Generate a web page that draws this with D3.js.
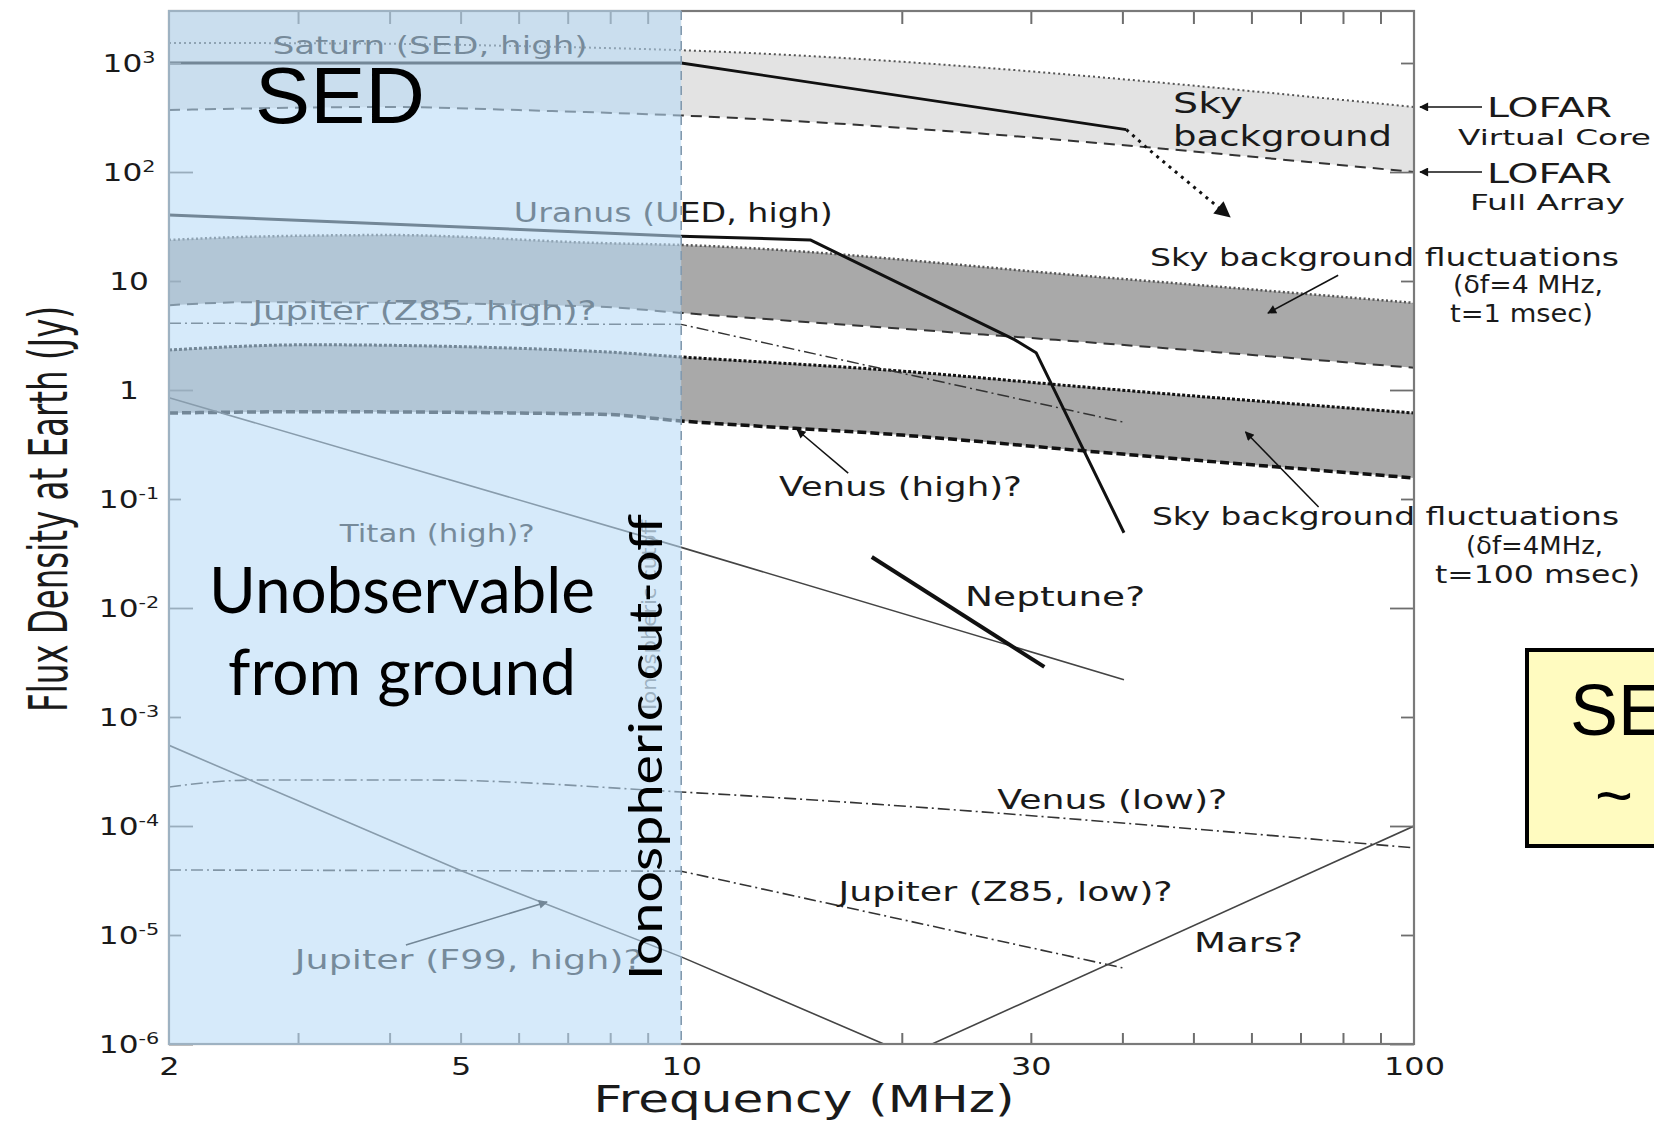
<!DOCTYPE html>
<html>
<head>
<meta charset="utf-8">
<script src="https://cdn.jsdelivr.net/npm/d3@7"></script>
<style>
  html, body { margin: 0; padding: 0; background: #ffffff; overflow: hidden; }
  svg { display: block; }
</style>
</head>
<body>
<svg id="chart" width="1654" height="1123"></svg>
<script>
// ---------------------------------------------------------------------------
// Planetary radio emission vs. sky background, flux density at Earth (Jy)
// ---------------------------------------------------------------------------

// Sky background: LOFAR virtual core (upper) and full array (lower) limits
const skyFreq        = [2, 4, 6, 10, 100];
const skyVirtualCore = [1530, 1500, 1430, 1310, 395];
const skyFullArray   = [370, 395, 370, 330, 100];

// Sky background fluctuations, df = 4 MHz, t = 1 msec
const fluct1Freq  = [2, 2.6, 4, 7.75, 10, 37, 100];
const fluct1Upper = [23.8, 25.5, 26.4, 22.3, 21.4, 10.9, 6.3];
const fluct1Lower = [6.0, 6.4, 6.3, 5.8, 5.1, 2.7, 1.6];

// Sky background fluctuations, df = 4 MHz, t = 100 msec
const fluct100Freq  = [2, 3.1, 7.75, 10, 20, 37, 100];
const fluct100Upper = [2.33, 2.6, 2.25, 2.01, 1.49, 1.04, 0.615];
const fluct100Lower = [0.615, 0.632, 0.6, 0.52, 0.386, 0.27, 0.156];

// Planetary spectra
const saturnFreq        = [2, 10, 40.5];
const saturnFlux        = [1000, 1000, 245];
const saturnCutoffFreq  = [40.5, 43.5, 56];
const saturnCutoffFlux  = [245, 160, 39];
const uranusFreq        = [2, 10, 15, 16.2, 28.5, 30.5, 40.2];
const uranusFlux        = [40.4, 25.8, 23.8, 18.5, 2.9, 2.2, 0.049];
const jupZ85HighFreq    = [2, 10, 40];
const jupZ85HighFlux    = [4.1, 4.0, 0.51];
const titanFreq         = [2, 10, 40.2];
const titanFlux         = [0.85, 0.036, 0.0022];
const neptuneFreq       = [18.2, 31.3];
const neptuneFlux       = [0.0294, 0.00288];
const venusLowFreq      = [2, 2.6, 4.5, 10, 100];
const venusLowFlux      = [2.28e-4, 2.64e-4, 2.64e-4, 2.05e-4, 6.3e-5];
const jupZ85LowFreq     = [2, 10, 40];
const jupZ85LowFlux     = [3.95e-5, 3.85e-5, 5.0e-6];
const jupF99Freq        = [2, 5, 10, 18.9];
const jupF99Flux        = [5.5e-4, 3.9e-5, 6.3e-6, 1e-6];
const marsFreq          = [22, 100];
const marsFlux          = [1e-6, 1e-4];

// Axis ticks
const xMinorTicks = [3, 4, 5, 6, 7, 8, 9, 20, 30, 40, 50, 60, 70, 80, 90];
const xTickLabels = [2, 5, 10, 30, 100];
const yEvenDecades = [1e2, 1, 1e-2, 1e-4, 1e-6];
const yOddDecades  = [1e3, 1e1, 1e-1, 1e-3, 1e-5];
const yTickLabels  = [
  { v: 1e3,  base: "10", exp: "3"  },
  { v: 1e2,  base: "10", exp: "2"  },
  { v: 1e1,  base: "10", exp: ""   },
  { v: 1,    base: "1",  exp: ""   },
  { v: 1e-1, base: "10", exp: "-1" },
  { v: 1e-2, base: "10", exp: "-2" },
  { v: 1e-3, base: "10", exp: "-3" },
  { v: 1e-4, base: "10", exp: "-4" },
  { v: 1e-5, base: "10", exp: "-5" },
  { v: 1e-6, base: "10", exp: "-6" }
];
const cutoffFreq = 10;

// ---------------------------------------------------------------------------
const svg = d3.select("#chart");
const x = d3.scaleLog().domain([2, 100]).range([169, 1414]);
const y = d3.scaleLog().domain([1e-6, 3000]).range([1044, 11]);
const [xL, xR] = x.range();
const [yB, yT] = y.range();
const xCut = x(cutoffFreq);

const defs = svg.append("defs");
defs.append("clipPath").attr("id", "plotClip")
  .append("rect").attr("x", xL).attr("y", yT).attr("width", xR - xL).attr("height", yB - yT);
defs.append("clipPath").attr("id", "lowBandClip")
  .append("rect").attr("x", xL).attr("y", yT).attr("width", xCut - xL).attr("height", yB - yT);

function arrowMarker(id, len, wid, color) {
  defs.append("marker")
    .attr("id", id)
    .attr("viewBox", "0 0 10 10")
    .attr("refX", 9).attr("refY", 5)
    .attr("markerUnits", "userSpaceOnUse")
    .attr("markerWidth", len).attr("markerHeight", wid)
    .attr("orient", "auto")
    .append("path").attr("d", "M0,0 L10,5 L0,10 Z").attr("fill", color);
}
arrowMarker("arrowSmall", 12, 9, "#111");
arrowMarker("arrowBig", 20, 16, "#111");

const rows = (fs, vs) => fs.map((f, i) => ({ f, v: vs[i] }));
const band = (fs, lo, hi) => fs.map((f, i) => ({ f, lo: lo[i], hi: hi[i] }));
const smooth = d3.curveMonotoneX;
const line = d3.line().x(d => x(d.f)).y(d => y(d.v));
const smoothLine = d3.line().x(d => x(d.f)).y(d => y(d.v)).curve(smooth);
const bandArea = d3.area().x(d => x(d.f)).y0(d => y(d.lo)).y1(d => y(d.hi)).curve(smooth);
const aboveArea = d3.area().x(d => x(d.f)).y0(d => y(d.hi)).y1(yT).curve(smooth);

function addText(parent, o) {
  const t = parent.append("text")
    .attr("x", o.x).attr("y", o.y)
    .attr("font-family", o.family || "DejaVu Sans")
    .attr("font-size", o.size)
    .attr("fill", o.fill || "#1a1a1a")
    .attr("text-anchor", o.anchor || "start")
    .text(o.text);
  if (o.width) t.attr("textLength", o.width).attr("lengthAdjust", "spacingAndGlyphs");
  if (o.transform) t.attr("transform", o.transform);
  return t;
}

// Multi-line caption: one text element, one tspan per line
function addLines(parent, lines, family) {
  const t = parent.append("text")
    .attr("font-family", family || "DejaVu Sans")
    .attr("fill", "#1a1a1a");
  lines.forEach(l => {
    t.append("tspan")
      .attr("x", l.x).attr("y", l.y)
      .attr("font-size", l.size)
      .attr("textLength", l.w).attr("lengthAdjust", "spacingAndGlyphs")
      .text(l.text);
  });
  return t;
}

// ---------------------------------------------------------------------------
// Plot body
const plot = svg.append("g").attr("clip-path", "url(#plotClip)");

const sky = band(skyFreq, skyFullArray, skyVirtualCore);
plot.append("path").attr("d", bandArea(sky)).attr("fill", "#e3e3e3");
plot.append("g").attr("clip-path", "url(#lowBandClip)")
  .append("path").attr("d", aboveArea(sky)).attr("fill", "#e3e3e3");
plot.append("path").attr("d", bandArea(band(fluct1Freq, fluct1Lower, fluct1Upper))).attr("fill", "#a9a9a9");
plot.append("path").attr("d", bandArea(band(fluct100Freq, fluct100Lower, fluct100Upper))).attr("fill", "#a9a9a9");

const curves = [
  { d: rows(skyFreq, skyVirtualCore),   stroke: "#555", width: 2,   dash: "2,3", smooth: true },
  { d: rows(skyFreq, skyFullArray),     stroke: "#333", width: 2,   dash: "11,7", smooth: true },
  { d: rows(fluct1Freq, fluct1Upper),   stroke: "#555", width: 2.5, dash: "2,2.5", smooth: true },
  { d: rows(fluct1Freq, fluct1Lower),   stroke: "#333", width: 2,   dash: "11,7", smooth: true },
  { d: rows(fluct100Freq, fluct100Upper), stroke: "#111", width: 3, dash: "3,2", smooth: true },
  { d: rows(fluct100Freq, fluct100Lower), stroke: "#111", width: 3.5, dash: "9,4", smooth: true },
  { d: rows(jupZ85HighFreq, jupZ85HighFlux), stroke: "#333", width: 1.5, dash: "12,4,2,4" },
  { d: rows(titanFreq, titanFlux),      stroke: "#444", width: 1.6 },
  { d: rows(venusLowFreq, venusLowFlux), stroke: "#333", width: 1.6, dash: "12,4,2,4", smooth: true },
  { d: rows(jupZ85LowFreq, jupZ85LowFlux), stroke: "#333", width: 1.6, dash: "12,4,2,4" },
  { d: rows(jupF99Freq, jupF99Flux),    stroke: "#444", width: 1.6 },
  { d: rows(marsFreq, marsFlux),        stroke: "#444", width: 1.6 },
  { d: rows(saturnFreq, saturnFlux),    stroke: "#111", width: 2.8 },
  { d: rows(uranusFreq, uranusFlux),    stroke: "#111", width: 3 },
  { d: rows(neptuneFreq, neptuneFlux),  stroke: "#111", width: 4 }
];
curves.forEach(c => {
  plot.append("path").attr("d", (c.smooth ? smoothLine : line)(c.d))
    .attr("fill", "none").attr("stroke", c.stroke).attr("stroke-width", c.width)
    .attr("stroke-dasharray", c.dash || null).attr("stroke-linejoin", "round");
});

// Saturn high-frequency cut-off continuation
svg.append("path").attr("d", line(rows(saturnCutoffFreq, saturnCutoffFlux)))
  .attr("fill", "none").attr("stroke", "#111").attr("stroke-width", 3)
  .attr("stroke-dasharray", "3,5").attr("marker-end", "url(#arrowBig)");

// Curve labels (anchored in frequency / flux units)
const plotLabels = [
  { text: "Saturn (SED, high)",   f: 2.77, v: 1200,    w: 315, size: 24 },
  { text: "Uranus (UED, high)",   f: 5.91, v: 34.8,    w: 319, size: 26 },
  { text: "Jupiter (Z85, high)?", f: 2.60, v: 4.39,    w: 344, size: 26 },
  { text: "Titan (high)?",        f: 3.42, v: 0.0404,  w: 195, size: 25 },
  { text: "Jupiter (F99, high)?", f: 2.97, v: 4.88e-6, w: 348, size: 26 },
  { text: "Venus (high)?",        f: 13.6, v: 0.107,   w: 243, size: 26 },
  { text: "Neptune?",             f: 24.4, v: 0.0104,  w: 180, size: 26 },
  { text: "Venus (low)?",         f: 27.0, v: 1.43e-4, w: 230, size: 26 },
  { text: "Jupiter (Z85, low)?",  f: 16.4, v: 2.05e-5, w: 334, size: 26 },
  { text: "Mars?",                f: 50.1, v: 6.98e-6, w: 109, size: 26 }
];
const labelLayer = svg.append("g");
plotLabels.forEach(l => addText(labelLayer, { x: x(l.f), y: y(l.v), text: l.text, size: l.size, width: l.w }));

// "Sky background" caption inside the band
addLines(labelLayer, [
  { text: "Sky",        x: x(46.9), y: y(348), size: 28, w: 70 },
  { text: "background", x: x(46.9), y: y(173), size: 28, w: 219 }
]);

// Pointer arrows (tail -> head, in frequency / flux units)
const pointers = [
  { from: [16.9, 0.173],  to: [14.4, 0.43] },
  { from: [78.8, 11.3],   to: [63.2, 5.08] },
  { from: [74.1, 0.0845], to: [58.9, 0.412] },
  { from: [4.21, 8.09e-6], to: [6.56, 2.01e-5] }
];
pointers.forEach(p => {
  labelLayer.append("line")
    .attr("x1", x(p.from[0])).attr("y1", y(p.from[1]))
    .attr("x2", x(p.to[0])).attr("y2", y(p.to[1]))
    .attr("stroke", "#111").attr("stroke-width", 1.5)
    .attr("marker-end", "url(#arrowSmall)");
});

// LOFAR sensitivity pointers at the 100 MHz edge
const lofarPointers = [
  { v: skyVirtualCore[skyVirtualCore.length - 1], line2: "Virtual Core", x2: 1458, w2: 193, dy1: 10, dy2: 38 },
  { v: skyFullArray[skyFullArray.length - 1],     line2: "Full Array",   x2: 1470, w2: 155, dy1: 11, dy2: 38 }
];
lofarPointers.forEach(p => {
  const yy = y(p.v);
  labelLayer.append("line")
    .attr("x1", xR + 68).attr("y1", yy).attr("x2", xR + 6).attr("y2", yy)
    .attr("stroke", "#111").attr("stroke-width", 1.5)
    .attr("marker-end", "url(#arrowSmall)");
  addText(labelLayer, { x: 1487, y: yy + p.dy1, text: "LOFAR", size: 26, width: 125 });
  addText(labelLayer, { x: p.x2, y: yy + p.dy2, text: p.line2, size: 22, width: p.w2 });
});

// Sky background fluctuation captions
addLines(labelLayer, [
  { text: "Sky background fluctuations", x: 1150, y: 266, size: 24, w: 469 },
  { text: "(\u03B4f=4 MHz,",             x: 1453, y: 293, size: 24, w: 150 },
  { text: "t=1 msec)",                   x: 1450, y: 322, size: 24, w: 143 }
]);
addLines(labelLayer, [
  { text: "Sky background fluctuations", x: 1152, y: 525, size: 24, w: 467 },
  { text: "(\u03B4f=4MHz,",              x: 1466, y: 554, size: 24, w: 137 },
  { text: "t=100 msec)",                 x: 1435, y: 583, size: 24, w: 205 }
]);

// Original cut-off note (under the shaded band)
addText(labelLayer, { x: 0, y: 0, text: "Ionospheric cutoff", size: 19, fill: "#777", anchor: "middle", width: 190,
  transform: `translate(656,615) rotate(-90)` });

// ---------------------------------------------------------------------------
// Axes
const axes = svg.append("g");
function styleTicks(g, w) {
  g.select(".domain").remove();
  g.selectAll(".tick line").attr("stroke", "#6e6e6e").attr("stroke-width", w);
}
axes.append("g").attr("transform", `translate(0,${yB})`)
  .call(d3.axisBottom(x).tickValues(xMinorTicks).tickSize(-11).tickFormat(""))
  .call(g => styleTicks(g, 2));
axes.append("g").attr("transform", `translate(0,${yT})`)
  .call(d3.axisTop(x).tickValues(xMinorTicks).tickSize(-13).tickFormat(""))
  .call(g => styleTicks(g, 2));
axes.append("g").attr("transform", `translate(${xL},0)`)
  .call(d3.axisLeft(y).tickValues(yEvenDecades).tickSize(-24).tickFormat(""))
  .call(g => styleTicks(g, 1.8));
axes.append("g").attr("transform", `translate(${xL},0)`)
  .call(d3.axisLeft(y).tickValues(yOddDecades).tickSize(-12).tickFormat(""))
  .call(g => styleTicks(g, 1.8));
axes.append("g").attr("transform", `translate(${xR},0)`)
  .call(d3.axisRight(y).tickValues(yEvenDecades).tickSize(-24).tickFormat(""))
  .call(g => styleTicks(g, 1.8));
axes.append("g").attr("transform", `translate(${xR},0)`)
  .call(d3.axisRight(y).tickValues(yOddDecades).tickSize(-13).tickFormat(""))
  .call(g => styleTicks(g, 1.8));

// frame
axes.append("rect").attr("x", xL).attr("y", yT).attr("width", xR - xL).attr("height", yB - yT)
  .attr("fill", "none").attr("stroke", "#7a7a7a").attr("stroke-width", 2.2);

// x tick labels
axes.append("g").attr("transform", `translate(0,${yB})`)
  .call(d3.axisBottom(x).tickValues(xTickLabels).tickSize(0).tickFormat(d3.format("d")))
  .call(g => {
    g.select(".domain").remove();
    g.selectAll(".tick text")
      .attr("y", 31).attr("dy", null)
      .attr("font-family", "DejaVu Sans").attr("font-size", 24).attr("fill", "#1a1a1a")
      .attr("transform", "scale(1.33,1)");
  });

// y tick labels with superscript exponents
axes.append("g").attr("transform", `translate(${xL},0)`)
  .call(d3.axisLeft(y).tickValues(yTickLabels.map(d => d.v)).tickSize(0).tickFormat(""))
  .call(g => {
    g.select(".domain").remove();
    g.selectAll(".tick").each(function (v) {
      const info = yTickLabels.find(d => d.v === v);
      const t = d3.select(this).append("text")
        .attr("text-anchor", "middle").attr("dy", "0.35em")
        .attr("font-family", "DejaVu Sans").attr("font-size", 24).attr("fill", "#1a1a1a")
        .attr("transform", "translate(-40,0) scale(1.3,1)");
      t.append("tspan").text(info.base);
      if (info.exp) t.append("tspan").attr("dy", -9).attr("font-size", 16).text(info.exp);
    });
  });

// axis titles
addText(axes, { x: 804, y: 1112, text: "Frequency (MHz)", size: 37, width: 421, anchor: "middle" });
addText(axes, { x: 0, y: 0, text: "Flux Density at Earth (Jy)", size: 34, width: 406, anchor: "middle",
  transform: "translate(67,509) rotate(-90) scale(1,1.55)" });

// ---------------------------------------------------------------------------
// Ground-unobservable band below the ionospheric cut-off
svg.append("rect")
  .attr("x", xL - 1).attr("y", yT - 1)
  .attr("width", xCut - xL + 1).attr("height", yB - yT + 2)
  .attr("fill", "rgb(185,219,246)").attr("fill-opacity", 0.583);
svg.append("line")
  .attr("x1", xCut).attr("x2", xCut).attr("y1", yT).attr("y2", yB)
  .attr("stroke", "#8299ae").attr("stroke-width", 1.6).attr("stroke-dasharray", "9,6");

const notes = svg.append("g");
addText(notes, { x: 255, y: 123, text: "SED", size: 80, family: "Liberation Sans", fill: "#000", width: 170 });
addText(notes, { x: 402, y: 613, text: "Unobservable", size: 64, family: "Lato", fill: "#000", width: 386, anchor: "middle" });
addText(notes, { x: 402, y: 695, text: "from ground", size: 64, family: "Lato", fill: "#000", width: 348, anchor: "middle" });
addText(notes, { x: 0, y: 0, text: "Ionospheric cut-off", size: 47, family: "Lato", fill: "#000", width: 466,
  transform: "translate(662,980) rotate(-90)" });

// Side note box
notes.append("rect").attr("x", 1527).attr("y", 650).attr("width", 180).attr("height", 196)
  .attr("fill", "#fffbc0").attr("stroke", "#000").attr("stroke-width", 4);
addLines(notes, [
  { text: "SED", x: 1570, y: 735, size: 72, w: 148 },
  { text: "~",   x: 1595, y: 818, size: 64, w: 38 }
], "Liberation Sans").attr("fill", "#000");
</script>
</body>
</html>
